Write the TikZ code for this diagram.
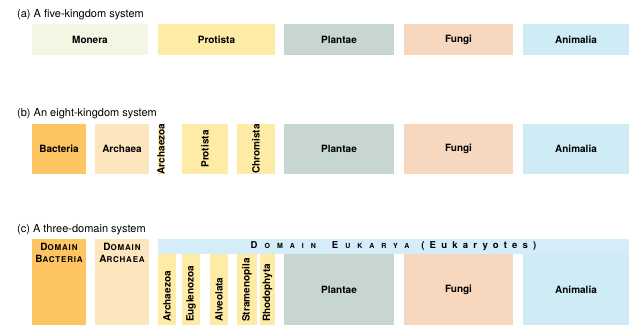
\documentclass[tikz,border=0pt]{standalone}
\usepackage{fontspec}
\setmainfont{TeX Gyre Heros}
\usetikzlibrary{positioning}
\definecolor{monera}{HTML}{F5F5E4}
\definecolor{protista}{HTML}{FDEBA6}
\definecolor{plantae}{HTML}{C7D7CF}
\definecolor{fungi}{HTML}{F7D7BE}
\definecolor{animalia}{HTML}{CFECF6}
\definecolor{bacteria}{HTML}{FEC462}
\definecolor{archaea}{HTML}{FDE5BE}
\definecolor{eukarya}{HTML}{D5ECF9}
\newcommand{\fakesc}[2]{#1{\fontsize{8}{9}\selectfont #2}}
\newcommand{\bandsc}[2]{{\fontsize{9.5}{11}\selectfont #1\hspace{7pt}{\fontsize{7}{9}\selectfont\addfontfeatures{LetterSpace=100}#2}}}
\tikzstyle{box} = [rectangle, inner sep=0pt, outer sep=0pt, font=\bfseries\fontsize{10}{12}\selectfont]
\tikzstyle{rowa} = [box, minimum height=31pt]
\tikzstyle{rowb} = [box, minimum height=50pt]
\tikzstyle{rowc} = [box, minimum height=71pt]
\tikzstyle{domainbox} = [box, minimum height=86pt, minimum width=54pt]
\tikzstyle{vlabel} = [rotate=90, inner sep=0pt, font=\bfseries\fontsize{10}{12}\selectfont]
\tikzstyle{domainlabel} = [anchor=north, align=center, inner sep=0pt, font=\bfseries\fontsize{10}{12}\selectfont\addfontfeatures{LetterSpace=10}]
\tikzstyle{titletext} = [anchor=base west, inner sep=0pt, font=\fontsize{11}{13}\selectfont]

\begin{document}
\begin{tikzpicture}
	\useasboundingbox (0,0) rectangle (629pt,-325pt);

	% (a) five kingdoms
	\node (titlea) [titletext] at (17pt,-17pt) {(a) A five-kingdom system};
	\node (monera) [rowa, minimum width=116pt, anchor=north west, fill=monera] at (32pt,-24pt) {Monera};
	\node (protista) [rowa, minimum width=117pt, right=10pt of monera, fill=protista] {Protista};
	\node (plantae) [rowa, minimum width=110pt, right=9pt of protista, fill=plantae] {Plantae};
	\node (fungi) [rowa, minimum width=109pt, right=10pt of plantae, fill=fungi] {Fungi};
	\node (animalia) [rowa, minimum width=106pt, right=10pt of fungi, fill=animalia] {Animalia};

	% (b) eight kingdoms
	\node (titleb) [titletext] at (17pt,-116pt) {(b) An eight-kingdom system};
	\node (bacteria) [rowb, minimum width=54pt, anchor=north west, fill=bacteria] at (32pt,-124pt) {Bacteria};
	\node (archaea) [rowb, minimum width=54pt, right=9pt of bacteria, fill=archaea] {Archaea};
	\node (archaezoa) [rowb, minimum width=6pt, right=9pt of archaea, fill=protista] {};
	\node (protistab) [rowb, minimum width=46pt, right=18pt of archaezoa, fill=protista] {};
	\node (chromista) [rowb, minimum width=38pt, right=9pt of protistab, fill=protista] {};
	\node (plantaeb) [rowb, minimum width=110pt, right=9pt of chromista, fill=plantae] {Plantae};
	\node (fungib) [rowb, minimum width=109pt, right=10pt of plantaeb, fill=fungi] {Fungi};
	\node (animaliab) [rowb, minimum width=106pt, right=10pt of fungib, fill=animalia] {Animalia};
	\node[vlabel] at (archaezoa.center) {Archaezoa};
	\node[vlabel] at (protistab.center) {Protista};
	\node[vlabel] at (chromista.center) {Chromista};

	% (c) three domains
	\node (titlec) [titletext] at (17pt,-232pt) {(c) A three-domain system};
	\node (dbacteria) [domainbox, anchor=north west, fill=bacteria] at (32pt,-239pt) {};
	\node (darchaea) [domainbox, right=9pt of dbacteria, fill=archaea] {};
	\node[domainlabel] at ([yshift=-4pt]dbacteria.north) {\fakesc{D}{OMAIN}\\\fakesc{B}{ACTERIA}};
	\node[domainlabel] at ([yshift=-4pt]darchaea.north) {\fakesc{D}{OMAIN}\\\fakesc{A}{RCHAEA}};
	\node (eukarya) [box, minimum width=471pt, minimum height=15pt, anchor=north west, fill=eukarya] at (158pt,-239pt)
		{\bandsc{D}{OMAIN}\hspace{16pt}\bandsc{E}{UKARYA}\hspace{12pt}{\fontsize{9.5}{11}\selectfont\addfontfeatures{LetterSpace=55}(Eukaryotes)}};
	\node (archaezoac) [rowc, minimum width=18pt, anchor=north west, fill=protista] at (158pt,-254pt) {};
	\node (euglenozoa) [rowc, minimum width=18pt, right=6pt of archaezoac, fill=protista] {};
	\node (alveolata) [rowc, minimum width=18pt, right=10pt of euglenozoa, fill=protista] {};
	\node (stramenopila) [rowc, minimum width=20pt, right=9pt of alveolata, fill=protista] {};
	\node (rhodophyta) [rowc, minimum width=15pt, right=3pt of stramenopila, fill=protista] {};
	\node (plantaec) [rowc, minimum width=110pt, right=9pt of rhodophyta, fill=plantae] {Plantae};
	\node (fungic) [rowc, minimum width=109pt, right=10pt of plantaec, fill=fungi] {Fungi};
	\node (animaliac) [rowc, minimum width=106pt, right=10pt of fungic, fill=animalia] {Animalia};
	\foreach \col/\name in {archaezoac/Archaezoa, euglenozoa/Euglenozoa, alveolata/Alveolata, stramenopila/Stramenopila, rhodophyta/Rhodophyta}
		\node[vlabel, anchor=west] at ([yshift=3pt]\col.south) {\name};
\end{tikzpicture}
\end{document}
